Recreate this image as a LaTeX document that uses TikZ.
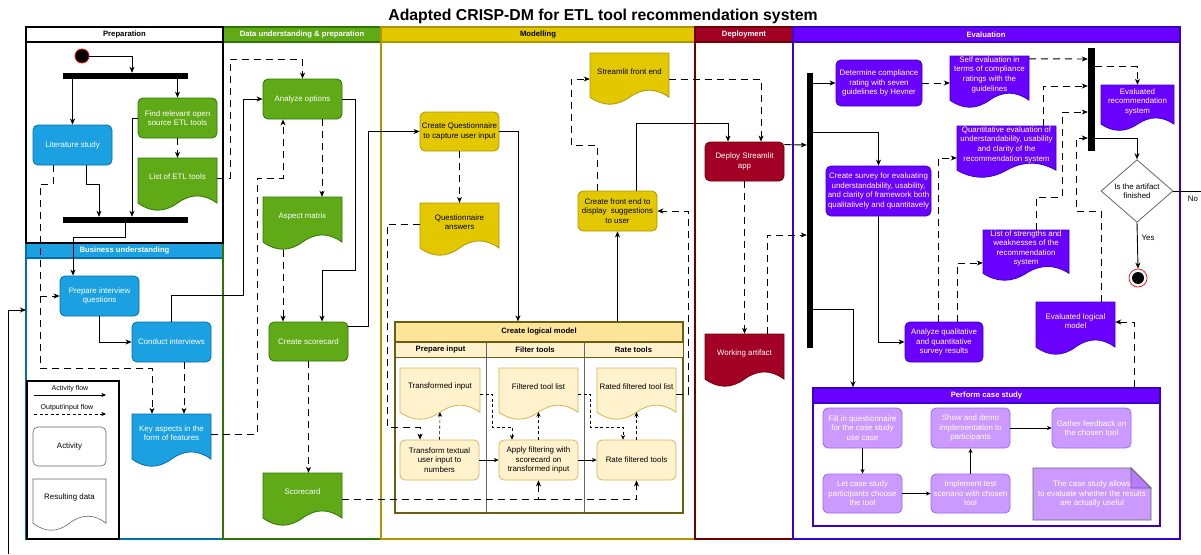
\documentclass[tikz,border=0pt]{standalone}
\usepackage{fontspec}
\setmainfont{Liberation Sans}
\usetikzlibrary{arrows.meta,shapes.geometric,calc}
\definecolor{bluef}{HTML}{1BA1E2}\definecolor{blued}{HTML}{006EAF}
\definecolor{greenf}{HTML}{60A917}\definecolor{greend}{HTML}{2D7600}
\definecolor{yelf}{HTML}{E3C800}\definecolor{yeld}{HTML}{B09500}
\definecolor{redf}{HTML}{A20025}\definecolor{redd}{HTML}{6F0000}
\definecolor{purf}{HTML}{6A00FF}\definecolor{purd}{HTML}{3700CC}
\definecolor{lyf}{HTML}{FFF2CC}\definecolor{lyd}{HTML}{D6B656}
\definecolor{lyh}{HTML}{FFE599}\definecolor{lmd}{HTML}{6B5E10}
\definecolor{lpf}{HTML}{CC99FF}\definecolor{lpd}{HTML}{9966FF}
\definecolor{grayd}{HTML}{666666}
\tikzset{
  nt/.style={font=\fontsize{7.9}{9.6}\selectfont, align=center, inner sep=0.5pt},
  act/.style={nt, rounded corners=5pt, line width=0.8pt},
  bluebox/.style={act, fill=bluef, draw=blued, text=white},
  greenbox/.style={act, fill=greenf, draw=greend, text=white},
  yelbox/.style={act, fill=yelf, draw=yeld, text=black},
  redbox/.style={act, fill=redf, draw=redd, text=white},
  purbox/.style={act, fill=purf, draw=purd, text=white},
  lybox/.style={act, fill=lyf, draw=lyd, text=black},
  lpbox/.style={act, fill=lpf, draw=lpd, text=white},
  bluedoc/.style={fill=bluef, draw=blued, line width=0.8pt},
  greendoc/.style={fill=greenf, draw=greend, line width=0.8pt},
  yeldoc/.style={fill=yelf, draw=yeld, line width=0.8pt},
  reddoc/.style={fill=redf, draw=redd, line width=0.8pt},
  purdoc/.style={fill=purf, draw=purd, line width=0.8pt},
  lydoc/.style={fill=lyf, draw=lyd, line width=0.8pt},
  arr/.style={-{Stealth[length=6pt,width=5pt,inset=1.8pt]}},
  flow/.style={arr, line width=0.9pt, draw=black},
  dflow/.style={flow, dash pattern=on 7pt off 5pt},
  tflow/.style={-{Stealth[length=4.5pt,width=4pt,inset=1.2pt]}, line width=0.6pt, draw=black},
  tdflow/.style={tflow, dash pattern=on 3pt off 2.5pt},
  hdr/.style={font=\bfseries\fontsize{7.7}{9}\selectfont, inner sep=0pt},
  barn/.style={fill=black, inner sep=0pt},
  lgt/.style={font=\fontsize{7}{8}\selectfont, inner sep=0pt},
}
\newcommand{\actn}[7]{\node[#1, minimum width={#5pt-#3pt}, minimum height={#6pt-#4pt}] (#2) at ({(#3+#5)/2},{(#4+#6)/2}) {#7};}
\newcommand{\docn}[8]{%
  \path[#1] (#4,#5) -- (#6,#5) -- (#6,{#5+0.85*(#7-#5)})
    .. controls ({#4+0.8333*(#6-#4)},{#5+0.67*(#7-#5)}) and ({#4+0.6667*(#6-#4)},{#5+0.67*(#7-#5)}) .. ({#4+0.5*(#6-#4)},{#5+0.85*(#7-#5)})
    .. controls ({#4+0.3333*(#6-#4)},{#5+1.03*(#7-#5)}) and ({#4+0.1667*(#6-#4)},{#5+1.03*(#7-#5)}) .. (#4,{#5+0.85*(#7-#5)}) -- cycle;
  \node[inner sep=0pt, minimum width={#6pt-#4pt}, minimum height={#7pt-#5pt}] (#3) at ({(#4+#6)/2},{(#5+#7)/2}) {};
  \node[nt, text=#2] (#3-t) at ({(#4+#6)/2},{#5+0.36*(#7-#5)}) {#8};}
\begin{document}
\begin{tikzpicture}[x=1pt,y=-1pt]
\useasboundingbox[fill=white] (0,0) rectangle (1201,554);
\node[font=\bfseries\fontsize{15.8}{18}\selectfont, inner sep=0pt] (title) at (603,16) {Adapted CRISP-DM for ETL tool recommendation system};
% ---------- lanes
\draw[blued, line width=2pt] (26,243) rectangle (223,539);
\filldraw[fill=bluef, draw=blued, line width=1.5pt] (26,243) rectangle (223,258);
\node[hdr, text=white] (hbu) at (124.5,251) {Business understanding};
\draw[greend, line width=2pt] (223,27) rectangle (381,539);
\filldraw[fill=greenf, draw=greend, line width=2pt] (223,27) rectangle (381,42);
\node[hdr, text=white] (hdu) at (302,35) {Data understanding \& preparation};
\draw[yeld, line width=2pt] (381,27) rectangle (695,539);
\filldraw[fill=yelf, draw=yeld, line width=2pt] (381,27) rectangle (695,42);
\node[hdr, text=black] (hmo) at (538,35) {Modelling};
\draw[redd, line width=2pt] (695,27) rectangle (793,539);
\filldraw[fill=redf, draw=redd, line width=2pt] (695,27) rectangle (793,42);
\node[hdr, text=white] (hde) at (744,35) {Deployment};
\draw[purd, line width=2pt] (793,27) rectangle (1180,539);
\filldraw[fill=purf, draw=purd, line width=2pt] (793,27) rectangle (1180,42);
\node[hdr, text=white] (hev) at (986,35) {Evaluation};
\draw[line width=2.5pt] (26,27) rectangle (223,243);
\draw[line width=2.5pt] (26,42) -- (223,42);
\node[hdr, text=black] (hpr) at (124.5,35) {Preparation};
% ---------- legend
\draw[line width=2.5pt, fill=white] (27,381) rectangle (119,539);
\node[lgt] (lg1) at (70,389) {Activity flow};
\coordinate (lga1) at (34,395); \coordinate (lgb1) at (106,395);
\draw[tflow] (lga1) -- (lgb1);
\node[lgt] (lg2) at (67,408) {Output/input flow};
\coordinate (lga2) at (34,414); \coordinate (lgb2) at (106,414);
\draw[tdflow] (lga2) -- (lgb2);
\actn{act, draw=grayd, fill=white, text=black, line width=0.6pt}{lg3}{33}{427}{106}{466}{Activity}
\docn{draw=grayd, fill=white, line width=0.6pt}{black}{lg4}{33}{479}{106}{531}{Resulting data}
% ---------- preparation
\node[circle, fill=black, draw=red, line width=0.8pt, minimum size=14pt, inner sep=0pt] (start) at (82,56) {};
\node[barn, minimum width=125pt, minimum height=6pt] (bar1) at (125.5,76) {};
\actn{bluebox}{lit}{33}{125}{112}{165}{Literature study}
\actn{greenbox}{find}{138}{98}{217}{138}{Find relevant open\\source ETL tools}
\docn{greendoc}{white}{etl}{138}{158}{217}{211}{List of ETL tools}
\node[barn, minimum width=125pt, minimum height=6pt] (bar2) at (125.5,220) {};
% ---------- business understanding
\actn{bluebox}{prep}{60}{276}{139}{316}{Prepare interview\\questions}
\actn{bluebox}{cond}{132}{322}{211}{362}{Conduct interviews}
\docn{bluedoc}{white}{keyasp}{132}{414}{211}{467}{Key aspects in the\\form of features}
% ---------- data understanding
\actn{greenbox}{analyze}{263}{79}{342}{119}{Analyze options}
\docn{greendoc}{white}{aspect}{263}{197}{342}{250}{Aspect matrix}
\actn{greenbox}{cscore}{269}{322}{348}{361}{Create scorecard}
\docn{greendoc}{white}{score}{263}{473}{342}{526}{Scorecard}
% ---------- modelling
\actn{yelbox}{cq}{420}{112}{499}{151}{Create Questionnaire\\to capture user input}
\docn{yeldoc}{black}{qa}{420}{203}{499}{256}{Questionnaire\\answers}
\actn{yelbox}{cfe}{578}{191}{657}{231}{Create front end to\\display\ \ suggestions\\to user}
\docn{yeldoc}{black}{sfe}{590}{53}{669}{105}{Streamlit front end}
\node[draw=lmd, fill=white, line width=1.2pt, minimum width=288pt, minimum height=191pt, inner sep=0pt] (logic) at (539,417.5) {};
\filldraw[fill=lyh, draw=lmd, line width=1.2pt] (395,322) rectangle (683,342);
\filldraw[fill=lyf, draw=lmd, line width=0.8pt] (395,342) rectangle (683,357);
\draw[grayd, line width=0.8pt] (486,342) -- (486,513) (584,342) -- (584,513);
\node[hdr, text=black] (hlm) at (539,332) {Create logical model};
\node[hdr, text=black] (hpi) at (440.5,349.5) {Prepare input};
\node[hdr, text=black] (hft) at (535,349.5) {Filter tools};
\node[hdr, text=black] (hrt) at (633.5,349.5) {Rate tools};
\docn{lydoc}{black}{ti}{400}{368}{480}{420}{Transformed input}
\actn{lybox}{tt}{400}{440}{479}{480}{Transform textual\\user input to\\numbers}
\docn{lydoc}{black}{ftl}{499}{368}{578}{420}{Filtered tool list}
\actn{lybox}{af}{499}{440}{578}{480}{Apply filtering with\\scorecard on\\transformed input}
\docn{lydoc}{black}{rftl}{597}{368}{676}{420}{Rated filtered tool list}
\actn{lybox}{rft}{597}{440}{676}{480}{Rate filtered tools}
% ---------- deployment
\actn{redbox}{dep}{705}{142}{784}{181}{Deploy Streamlit\\app}
\docn{reddoc}{white}{wa}{705}{334}{784}{387}{Working artifact}
% ---------- evaluation
\node[barn, minimum width=6pt, minimum height=275pt] (ebar) at (810,210.5) {};
\actn{purbox}{det}{836}{60}{922}{106}{Determine compliance\\rating with seven\\guidelines by Hevner}
\docn{purdoc}{white}{selfe}{950}{56}{1029}{108}{Self evaluation in\\terms of compliance\\ratings with the\\guidelines}
\actn{purbox}{survey}{826}{166}{931}{216}{Create survey for evaluating\\understandability, usability,\\and clarity of framework both\\qualitatively and quantitavely}
\docn{purdoc}{white}{quant}{957}{126}{1056}{178}{Quantitative evaluation of\\understandability, usability\\and clarity of the\\recommendation system}
\docn{purdoc}{white}{strengths}{983}{230}{1069}{281}{List of strengths and\\weaknesses of the\\recommendation\\system}
\actn{purbox}{aqq}{905}{322}{983}{362}{Analyze qualitative\\and quantitative\\survey results}
\docn{purdoc}{white}{evlm}{1036}{302}{1115}{355}{Evaluated logical\\model}
\node[barn, minimum width=7pt, minimum height=103pt] (rbar) at (1091.5,99.5) {};
\docn{purdoc}{white}{evrs}{1101}{85}{1174}{131}{Evaluated\\recommendation\\system}
\node[diamond, draw=grayd, fill=white, line width=0.8pt, minimum width=72pt, minimum height=58pt, inner sep=0pt, nt, text=black] (dec) at (1137,191) {Is the artifact\\finished};
\node[circle, draw=red, fill=white, line width=0.7pt, minimum size=18pt, inner sep=0pt] (endn) at (1138,278) {};
\fill[black] (endn.center) circle (6pt);
\node[nt] (yes) at (1148,238) {Yes};
\node[nt] (no) at (1193,199) {No};
\node[draw=purd, fill=white, line width=1.5pt, minimum width=347pt, minimum height=138pt, inner sep=0pt] (case) at (986.5,457) {};
\filldraw[fill=purf, draw=purd, line width=1.5pt] (813,388) rectangle (1160,403);
\node[hdr, text=white] (hcs) at (986.5,395.5) {Perform case study};
\actn{lpbox}{cfill}{823}{408}{902}{448}{Fill in questionnaire\\for the case study\\use case}
\actn{lpbox}{cshow}{931}{408}{1010}{448}{Show and demo\\implementation to\\participants}
\actn{lpbox}{cgather}{1052}{408}{1131}{448}{Gather feedback on\\the chosen tool}
\actn{lpbox}{clet}{823}{474}{902}{513}{Let case study\\participants choose\\the tool}
\actn{lpbox}{cimpl}{931}{474}{1010}{513}{Implement test\\scenario with chosen\\tool}
\filldraw[fill=lpf, draw=grayd, line width=0.8pt] (1033,468) -- (1131,468) -- (1151,488) -- (1151,520) -- (1033,520) -- cycle;
\filldraw[fill=lpf!80!purf, draw=grayd, line width=0.8pt] (1131,468) -- (1131,488) -- (1151,488) -- cycle;
\node[nt, text=white] (note) at (1092,494) {The case study allows\\to evaluate whether the results\\are actually useful};
% ---------- connectors: preparation / business
\draw[flow] (start.east) -| ([xshift=6.5pt]bar1.north);
\draw[flow] (bar1.south -| lit.north) -- (lit.north);
\draw[flow] (bar1.south -| find.north) -- (find.north);
\draw[dflow] (find.south) -- (etl.north);
\draw[flow] ([xshift=13.5pt]lit.south) -- ++(0,19) -| ([xshift=-26.5pt]bar2.north);
\draw[flow] (find.west) -| ([xshift=6.5pt]bar2.north);
\draw[flow] (bar2.south) -- ++(0,14) -| ([xshift=-26.5pt]prep.north);
\draw[flow] (prep.south) |- (cond.west);
\draw[dflow] ([xshift=-19.5pt]lit.south) -- ++(0,19) -- ++(-13,0) -- ++(0,184) -| ([xshift=-19.5pt]keyasp.north);
\coordinate (litbr) at (40,296);
\draw[dflow] (litbr) -- (prep.west);
\draw[dflow] ([xshift=12.5pt]cond.south) -- ([xshift=12.5pt]keyasp.north);
\coordinate (loopin) at (8,554); \coordinate (buleft) at (26,310);
\draw[flow] (loopin) |- (buleft);
% ---------- data understanding
\draw[dflow] ([yshift=6.5pt]etl.east) -- ++(13,0) -- ++(0,-119) -| (analyze.north);
\draw[flow] (cond.north) -- ++(0,-26) -- ++(72,0) |- (analyze.west);
\draw[dflow] ([yshift=6.5pt]keyasp.east) -| (257,178) -| ([xshift=-19.5pt]analyze.south);
\draw[dflow] ([xshift=19.5pt]analyze.south) -- ([xshift=19.5pt]aspect.north);
\draw[flow] (analyze.east) -| (355,270) -| ([xshift=13.5pt]cscore.north);
\draw[dflow] ([xshift=-19.5pt]aspect.south) -- ([xshift=-25.5pt]cscore.north);
\draw[flow] ([yshift=-5pt]cscore.north east) -- ++(20,0) |- (cq.west);
\draw[dflow] (cscore.south) -- (cscore.south |- score.north);
\draw[dflow] (score.east) -| (af.south);
\draw[dflow] (af.south |- score.east) -| (rft.south);
% ---------- modelling
\draw[dflow] (cq.south) -- (qa.north);
\draw[flow] (cq.east) -| ([xshift=-21pt]logic.north);
\draw[dflow] ([yshift=5.5pt]qa.west) -| (387,427) -| ([xshift=-19.5pt]tt.north);
\draw[tdflow] (tt.north) -- ([yshift=8pt]ti.south);
\draw[tflow] (tt.east) -- (af.west);
\draw[tflow] (af.east) -- (rft.west);
\draw[tdflow] (ti.east) -| (492,427) -| ([xshift=-26.5pt]af.north);
\draw[tdflow] (ftl.east) -| (590,427) -| ([xshift=-13.5pt]rft.north);
\draw[tdflow] (af.north) -- ([yshift=8pt]ftl.south);
\draw[tdflow] (rft.north) -- ([yshift=8pt]rftl.south);
\draw[flow] (logic.north -| cfe.south) -- (cfe.south);
\draw[dflow] (rftl.east) -- ++(12,0) |- (cfe.east);
\draw[dflow] ([xshift=-20.5pt]cfe.north) |- (571,145) |- (sfe.west);
\draw[flow] ([xshift=18.5pt]cfe.north) -- ++(0,-67) -| ([xshift=-16.5pt]dep.north);
\draw[dflow] (sfe.east) -| ([xshift=16.5pt]dep.north);
% ---------- deployment
\draw[dflow] (dep.south) -- (dep.south |- wa.north);
\draw[flow] ([yshift=-3pt]dep.north east) -- ([yshift=65.5pt]ebar.west);
\draw[dflow] ([xshift=22.5pt]wa.north) |- ([yshift=-24.5pt]ebar.west);
% ---------- evaluation
\draw[flow] (ebar.east |- det.west) -- (det.west);
\draw[dflow] (det.east) -- (det.east -| selfe.west);
\draw[flow] ([yshift=78.5pt]ebar.east) -| (survey.north);
\draw[flow] (survey.south) |- (aqq.west);
\draw[flow] ([yshift=-98.5pt]ebar.east) -| ([xshift=-133.5pt]case.north);
\draw[dflow] ([xshift=-6pt]aqq.north) |- ([yshift=-6pt]quant.west);
\draw[dflow] ([xshift=13pt]aqq.north) |- ([yshift=-7.5pt]strengths.west);
\draw[dflow] ([yshift=-3pt]selfe.north east) -- ([yshift=40.5pt]rbar.west);
\draw[dflow] ([xshift=36.5pt]quant.north) |- ([yshift=13.5pt]rbar.west);
\draw[dflow] ([xshift=10pt]strengths.north) |- (1062,197) |- ([yshift=-12.5pt]rbar.west);
\draw[dflow] ([xshift=25.5pt]evlm.north) |- (1076,211) |- ([yshift=-38.5pt]rbar.west);
\draw[dflow] ([xshift=147.5pt]case.north) |- ([yshift=6.5pt]evlm.east);
\draw[dflow] ([yshift=33pt]rbar.east) -| (evrs.north);
\draw[flow] ([yshift=-38.5pt]rbar.east) -| (dec.north);
\draw[flow] (dec.south) -- (endn.north);
\coordinate (noend) at (1201,191);
\draw[line width=0.9pt] (dec.east) -- (noend);
\draw[tflow] (cfill.south) -- (clet.north);
\draw[tflow] (clet.east) -- (cimpl.west);
\draw[tflow] (cimpl.north) -- (cshow.south);
\draw[tflow] (cshow.east) -- (cgather.west);
\end{tikzpicture}
\end{document}
